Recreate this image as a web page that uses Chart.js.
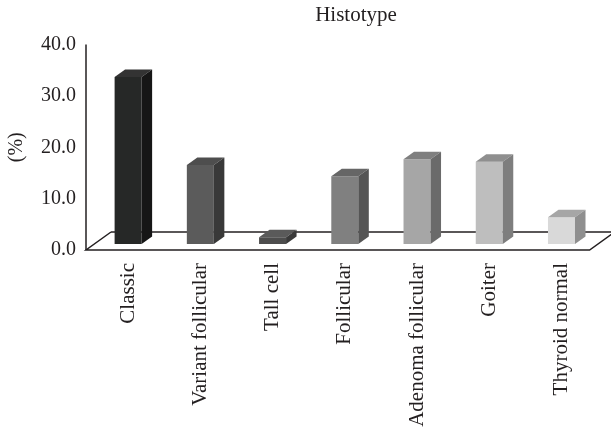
<!DOCTYPE html>
<html><head><meta charset="utf-8">
<script src="https://cdn.jsdelivr.net/npm/chart.js@4"></script>
<style>html,body{margin:0;padding:0;background:#fff}canvas{display:block}</style>
</head><body>
<canvas id="c" width="611" height="429"></canvas>
<script>
// ---- data ----
const categories = ['Classic', 'Variant follicular', 'Tall cell', 'Follicular', 'Adenoma follicular', 'Goiter', 'Thyroid normal'];
const percentValues = [32.5, 15.4, 1.3, 13.2, 16.5, 16.0, 5.2];
const yTickMin = 0;
const yTickMax = 40;
const yTickStep = 10;
const titleText = 'Histotype';
const yAxisTitle = '(%)';

// ---- styles ----
const frontColors = ['#262827', '#5b5b5b', '#4d4d4d', '#808080', '#a6a6a6', '#bebebe', '#d9d9d9'];
const sideColors  = ['#161616', '#393939', '#3a3a3a', '#555555', '#6a6a6a', '#7e7e7e', '#8f8f8f'];
const topColors   = ['#333333', '#4e4e4e', '#5a5a5a', '#666666', '#7f7f7f', '#8f8f8f', '#a6a6a6'];
const inkColor = '#231f20';
const serif = "'Liberation Serif', 'DejaVu Serif', serif";
const BAR_DX = 10.5, BAR_DY = -7.5;      // bar depth
const FLOOR_DX = 25, FLOOR_DY = -18;     // floor depth
const FRONT_SHIFT_PX = 6;                // bars sit 6px behind the floor front edge

const threeD = {
  id: 'threeD',
  afterLayout(chart) {
    if (chart.titleBlock) { chart.titleBlock.left = 101; chart.titleBlock.right = 611; }
  },
  beforeDatasetsDraw(chart) {
    const ctx = chart.ctx, ca = chart.chartArea, y = chart.scales.y;
    const fx0 = ca.left - 6, fx1 = ca.right - 8, fy = y.getPixelForValue(0);
    ctx.save();
    ctx.strokeStyle = inkColor; ctx.lineWidth = 1.5;
    ctx.beginPath();
    ctx.moveTo(fx0 + FLOOR_DX, fy + FLOOR_DY);
    ctx.lineTo(fx1 + FLOOR_DX, fy + FLOOR_DY);
    ctx.stroke();
    ctx.beginPath();
    ctx.moveTo(fx0 + FLOOR_DX, fy + FLOOR_DY);
    ctx.lineTo(fx0, fy);
    ctx.lineTo(fx1, fy);
    ctx.lineTo(fx1 + FLOOR_DX, fy + FLOOR_DY);
    ctx.stroke();
    // value axis line
    ctx.beginPath();
    ctx.moveTo(fx0, y.getPixelForValue(yTickMax));
    ctx.lineTo(fx0, fy);
    ctx.stroke();
    ctx.restore();
  },
  afterDatasetsDraw(chart) {
    const ctx = chart.ctx;
    const meta = chart.getDatasetMeta(0);
    ctx.save();
    meta.data.forEach((el, i) => {
      const p = el.getProps(['x', 'y', 'base', 'width'], true);
      const l = p.x - p.width / 2, r = p.x + p.width / 2;
      const t = Math.min(p.y, p.base), b = Math.max(p.y, p.base);
      ctx.fillStyle = topColors[i];
      ctx.beginPath();
      ctx.moveTo(l, t); ctx.lineTo(l + BAR_DX, t + BAR_DY);
      ctx.lineTo(r + BAR_DX, t + BAR_DY); ctx.lineTo(r, t); ctx.closePath(); ctx.fill();
      ctx.fillStyle = sideColors[i];
      ctx.beginPath();
      ctx.moveTo(r, t); ctx.lineTo(r + BAR_DX, t + BAR_DY);
      ctx.lineTo(r + BAR_DX, b + BAR_DY); ctx.lineTo(r, b); ctx.closePath(); ctx.fill();
    });
    ctx.restore();
  }
};

// hidden value scale: same units, shifted up by FRONT_SHIFT_PX
const CA_TOP = 44.5, CA_BOTTOM = 250;
const unitsShift = FRONT_SHIFT_PX * (yTickMax - yTickMin) / (CA_BOTTOM - CA_TOP);

new Chart(document.getElementById('c'), {
  type: 'bar',
  data: {
    labels: categories,
    datasets: [{
      data: percentValues,
      backgroundColor: frontColors,
      borderWidth: 0,
      yAxisID: 'yb',
      categoryPercentage: 1,
      barPercentage: 0.374
    }]
  },
  options: {
    responsive: false,
    animation: false,
    events: [],
    layout: { padding: { left: 0, right: 13.4, top: 0, bottom: 0 } },
    plugins: {
      legend: { display: false },
      tooltip: { enabled: false },
      title: {
        display: true, text: titleText, color: inkColor,
        font: { family: serif, size: 21, weight: 'normal', lineHeight: 1.2 },
        padding: { top: 2.5, bottom: 16.8 }
      }
    },
    scales: {
      x: {
        grid: { display: false, drawTicks: false },
        border: { display: false },
        ticks: {
          color: inkColor, font: { family: serif, size: 21 },
          minRotation: 90, maxRotation: 90, padding: 13, autoSkip: false
        },
        afterFit(s) { s.height = 429 - CA_BOTTOM; }
      },
      y: {
        position: 'left', min: yTickMin, max: yTickMax,
        grid: { display: false, drawTicks: false },
        border: { display: false },
        ticks: {
          stepSize: yTickStep, color: inkColor, padding: 16,
          font: { family: serif, size: 20 },
          callback: v => Number(v).toFixed(1)
        },
        title: {
          display: true, text: yAxisTitle, color: inkColor,
          font: { family: serif, size: 20 }, padding: { top: 5, bottom: 0 }
        },
        afterFit(s) { s.width = 92; }
      },
      yb: {
        display: false, position: 'left',
        min: yTickMin - unitsShift, max: yTickMax - unitsShift
      }
    }
  },
  plugins: [threeD]
});
</script>
</body></html>
